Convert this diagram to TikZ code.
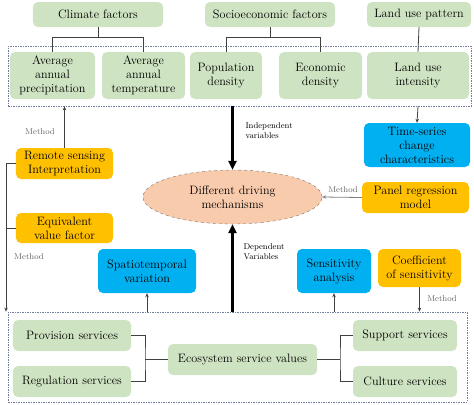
\documentclass[tikz,border=0pt]{standalone}
\usetikzlibrary{arrows.meta,shapes.geometric,fit}
\definecolor{lgreen}{RGB}{206,227,193}
\definecolor{morange}{RGB}{255,192,0}
\definecolor{sblue}{RGB}{0,176,240}
\definecolor{salmon}{RGB}{248,203,173}
\definecolor{fgray}{RGB}{110,125,155}

\begin{document}
\begin{tikzpicture}[x=1bp,y=-1bp,
  gbox/.style={rectangle,rounded corners=5bp,fill=lgreen,align=center,inner sep=1bp,font=\fontsize{12.2}{14}\selectfont},
  obox/.style={gbox,fill=morange},
  bbox/.style={gbox,fill=sblue},
  ellbox/.style={ellipse,draw=black!55,dashed,fill=salmon,align=center,inner sep=0,font=\fontsize{12.2}{14}\selectfont},
  frame/.style={rectangle,draw=fgray,dash pattern=on 1.5bp off 1bp,line width=0.8bp,inner sep=0},
  link/.style={draw=black!75,line width=0.8bp},
  arrow/.style={link,-{Stealth[length=4bp,width=3.5bp]}},
  bigarrow/.style={line width=2.6bp,-{Triangle[length=9bp,width=8bp]}},
  meth/.style={font=\fontsize{8.5}{9.5}\selectfont,text=black!60},
  varlab/.style={font=\fontsize{8.5}{10}\selectfont,align=left,anchor=north west}
]
  \useasboundingbox (0,0) rectangle (474,404);

  % factor groups
  \node[gbox,minimum width=130bp,minimum height=25bp] (clim) at (98,14.5) {Climate factors};
  \node[gbox,minimum width=130bp,minimum height=25bp] (socio) at (270,14.5) {Socioeconomic factors};
  \node[gbox,minimum width=104bp,minimum height=25bp] (landp) at (419,14.5) {Land use pattern};

  % independent variables
  \node[gbox,minimum width=85bp,minimum height=47bp] (precip) at (52.5,75.5) {Average\\annual\\precipitation};
  \node[gbox,minimum width=83bp,minimum height=47bp] (temp) at (143.5,75.5) {Average\\annual\\temperature};
  \node[gbox,minimum width=72bp,minimum height=47bp] (pop) at (226,75.5) {Population\\density};
  \node[gbox,minimum width=83bp,minimum height=47bp] (econ) at (320.5,75.5) {Economic\\density};
  \node[gbox,minimum width=102bp,minimum height=47bp] (lui) at (418,75.5) {Land use\\intensity};
  \coordinate (tf1) at (8,46);
  \coordinate (tf2) at (471,106);
  \node[frame,fit=(tf1)(tf2)] (topframe) {};

  % middle part
  \node[ellbox,minimum width=179bp,minimum height=54bp] (ell) at (232.5,197) {Different driving\\mechanisms};
  \node[bbox,minimum width=106bp,minimum height=44bp] (timeser) at (417,145) {Time-series\\change\\characteristics};
  \node[obox,minimum width=107bp,minimum height=31bp] (panel) at (415.5,197.5) {Panel regression\\model};
  \node[obox,minimum width=97bp,minimum height=31bp] (rs) at (64.5,163.5) {Remote sensing\\Interpretation};
  \node[obox,minimum width=97bp,minimum height=30bp] (evf) at (64.5,228) {Equivalent\\value factor};
  \node[bbox,minimum width=98bp,minimum height=44bp] (spat) at (147,271) {Spatiotemporal\\variation};
  \node[bbox,minimum width=74bp,minimum height=44bp] (sens) at (334,271) {Sensitivity\\analysis};
  \node[obox,minimum width=83bp,minimum height=38bp] (coef) at (419.5,268) {Coefficient\\of sensitivity};

  % ecosystem services
  \node[gbox,minimum width=118bp,minimum height=31bp] (prov) at (72,335.5) {Provision services};
  \node[gbox,minimum width=118bp,minimum height=31bp] (reg) at (72,381.5) {Regulation services};
  \node[gbox,minimum width=149bp,minimum height=31bp] (esv) at (242.5,359.5) {Ecosystem service values};
  \node[gbox,minimum width=104bp,minimum height=31bp] (supp) at (405,335.5) {Support services};
  \node[gbox,minimum width=104bp,minimum height=31bp] (cult) at (405,381.5) {Culture services};
  \coordinate (bf1) at (8,312);
  \coordinate (bf2) at (467,402);
  \node[frame,fit=(bf1)(bf2)] (botframe) {};

  % brackets
  \coordinate (climj) at ([yshift=-10bp]clim.south);
  \coordinate (socioj) at ([yshift=-10bp]socio.south);
  \draw[link] (clim.south) -- (climj);
  \draw[link] (precip.north) |- (climj) -| (temp.north);
  \draw[link] (socio.south) -- (socioj);
  \draw[link] (pop.north) |- (socioj) -| (econ.north);
  \draw[link] (landp.south) -- (lui.north);
  \coordinate (lj) at (145,359.5);
  \coordinate (rj) at (340,359.5);
  \draw[link] (prov.east) -| (lj) |- (reg.east);
  \draw[link] (lj) -- (esv.west);
  \draw[link] (supp.west) -| (rj) |- (cult.west);
  \draw[link] (rj) -- (esv.east);

  % method arrows
  \coordinate (lv) at (6,163.5);
  \draw[link] (rs.west) -- (lv);
  \draw[link] (evf.west) -- (evf.west -| lv);
  \draw[arrow] (lv) -- (lv |- botframe.north);
  \draw[arrow] (rs.north) -- (rs.north |- topframe.south);
  \draw[arrow] (lui.south |- topframe.south) -- (timeser.north);
  \draw[arrow,draw=black!50] (panel.west) -- (ell.east);
  \draw[arrow] (botframe.north -| spat.south) -- (spat.south);
  \draw[arrow] (botframe.north -| sens.south) -- (sens.south);
  \draw[arrow] (coef.south) -- (coef.south |- botframe.north);

  % variables
  \draw[bigarrow] (topframe.south -| ell.north) -- (ell.north);
  \draw[bigarrow] (botframe.north -| ell.south) -- (ell.south);

  % labels
  \node[meth] (m1) at (40,132) {Method};
  \node[meth] (m2) at (29,257) {Method};
  \node[meth] (m3) at (343,190) {Method};
  \node[meth] (m4) at (442,299) {Method};
  \node[varlab] (indep) at (242,119) {Independent\\variables};
  \node[varlab] (dep) at (240,240) {Dependent\\Variables};
\end{tikzpicture}
\end{document}
